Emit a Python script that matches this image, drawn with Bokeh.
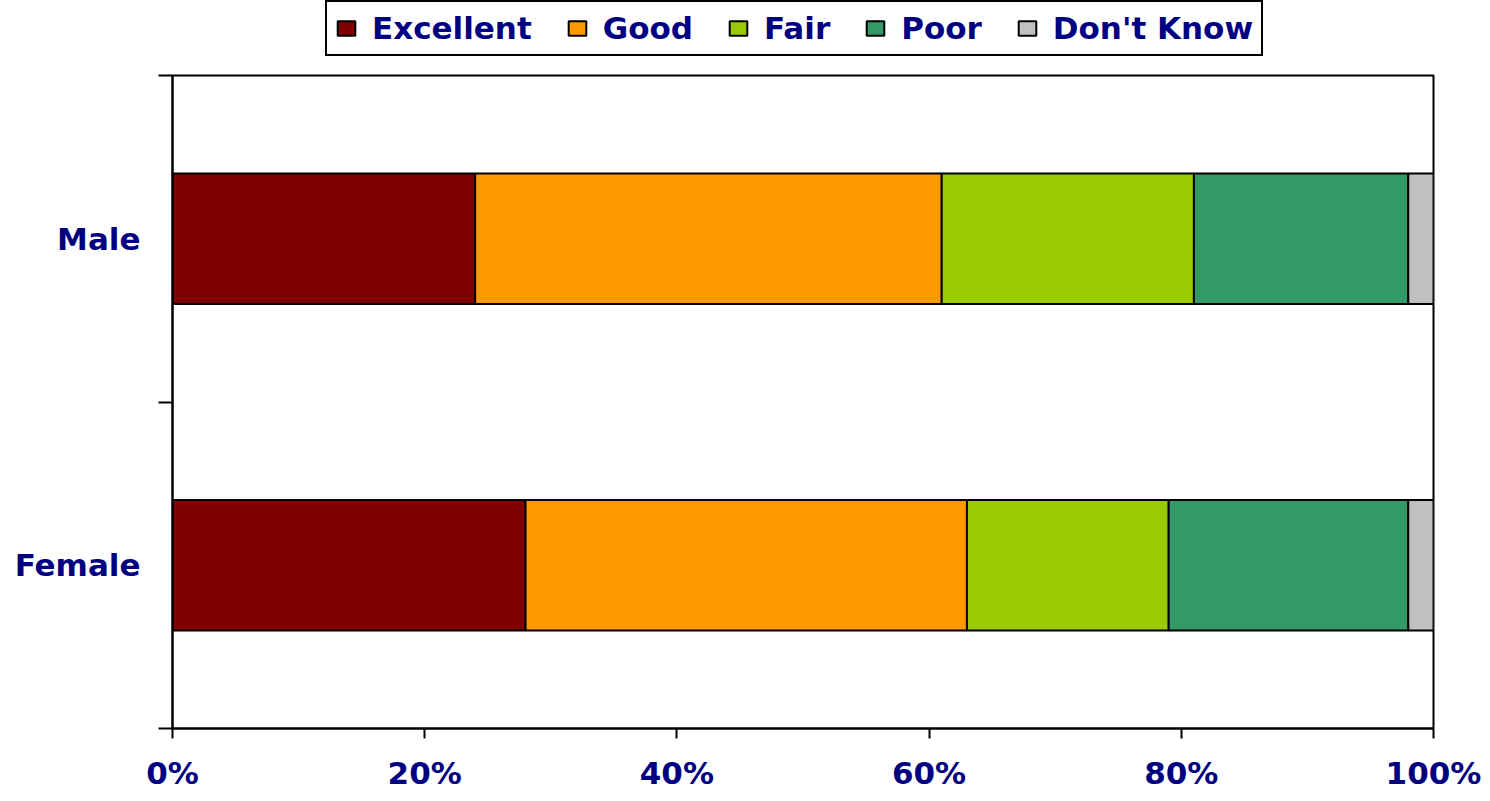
from bokeh.plotting import figure
from bokeh.layouts import column
from bokeh.models import (Range1d, LinearAxis, FixedTicker, PrintfTickFormatter, Legend, LegendItem,
                          ColumnDataSource, CustomJSTickFormatter)
from bokeh.embed import file_html
from bokeh.resources import INLINE

# ---- data ----
categories = ["Female", "Male"]
series = ["Excellent", "Good", "Fair", "Poor", "Don't Know"]
excellent = [28, 24]
good = [35, 37]
fair = [16, 20]
poor = [19, 17]
dont_know = [2, 2]
colors = ["#800000", "#FF9900", "#99CC00", "#339966", "#C0C0C0"]
x_ticks = [0, 20, 40, 60, 80, 100]

NAVY = "#000080"
FONT = "DejaVu Sans"
FS = "31px"
W = 1482
LEG_H = 70
TOTAL_H = 793

n = len(categories)
ypos = [i + 0.5 for i in range(n)]
source = ColumnDataSource(dict(y=ypos, Excellent=excellent, Good=good, Fair=fair,
                               Poor=poor, **{"Don't Know": dont_know}))

p = figure(width=W, height=TOTAL_H - LEG_H, output_backend="svg", toolbar_location=None,
           y_range=Range1d(0, n), x_range=Range1d(0, 100),
           x_axis_location=None, y_axis_location=None,
           min_border_left=172, min_border_right=49, min_border_top=5, min_border_bottom=63)
p.xgrid.visible = False
p.ygrid.visible = False
p.outline_line_color = "black"
p.outline_line_width = 2
p.background_fill_color = "white"
p.border_fill_color = "white"

p.hbar_stack(series, y="y", height=0.4, source=source, color=colors,
             line_color="black", line_width=2)

# x axis
xa = LinearAxis(ticker=FixedTicker(ticks=x_ticks), formatter=PrintfTickFormatter(format="%d%%"))
xa.major_tick_out = 10
xa.major_tick_in = 0
xa.minor_tick_line_color = None
xa.axis_line_width = 2
xa.major_tick_line_width = 2
xa.major_label_standoff = 16
xa.major_label_text_font = FONT
xa.major_label_text_font_style = "bold"
xa.major_label_text_font_size = FS
xa.major_label_text_color = NAVY
p.add_layout(xa, "below")

# y boundary ticks axis
ta = LinearAxis(ticker=FixedTicker(ticks=list(range(n + 1))),
                formatter=CustomJSTickFormatter(code="return ''"))
ta.major_tick_out = 14
ta.major_tick_in = 0
ta.minor_tick_line_color = None
ta.major_label_standoff = 0
ta.major_label_text_font_size = "1px"
ta.axis_line_width = 2
ta.major_tick_line_width = 2
p.add_layout(ta, "left")

# category labels axis
ya = LinearAxis(ticker=FixedTicker(ticks=ypos),
                major_label_overrides={y: c for y, c in zip(ypos, categories)})
ya.major_tick_line_color = None
ya.minor_tick_line_color = None
ya.axis_line_color = None
ya.major_label_standoff = 12
ya.major_label_text_font = FONT
ya.major_label_text_font_style = "bold"
ya.major_label_text_font_size = FS
ya.major_label_text_color = NAVY
p.add_layout(ya, "left")

# legend strip on top (its frame is aligned with the main frame by the column layout)
lf = figure(width=W, height=LEG_H, output_backend="svg", toolbar_location=None,
            x_range=Range1d(0, 100), y_range=Range1d(0, n),
            x_axis_location=None, y_axis_location=None,
            min_border_left=172, min_border_right=49, min_border_top=0, min_border_bottom=0)
lf.xgrid.visible = False
lf.ygrid.visible = False
lf.outline_line_color = None
lf.border_fill_color = "white"
lf.background_fill_color = "white"

leg_renderers = lf.hbar_stack(series, y="y", height=0.4, source=source, color=colors,
                              line_color="black", line_width=2)
for r in leg_renderers:
    r.visible = False
items = [LegendItem(label=s, renderers=[r]) for s, r in zip(series, leg_renderers)]

legend = Legend(items=items, orientation="horizontal", location=(153, 14))
legend.label_text_font = FONT
legend.label_text_font_style = "bold"
legend.label_text_font_size = FS
legend.label_text_color = NAVY
legend.glyph_width = 22
legend.glyph_height = 18
legend.label_standoff = 15
legend.spacing = 34
legend.padding = 8
legend.margin = 0
legend.border_line_color = "black"
legend.border_line_width = 2
legend.border_line_alpha = 1
lf.add_layout(legend)

layout = column(lf, p, spacing=0)
open("out.html", "w").write(file_html(layout, INLINE))
